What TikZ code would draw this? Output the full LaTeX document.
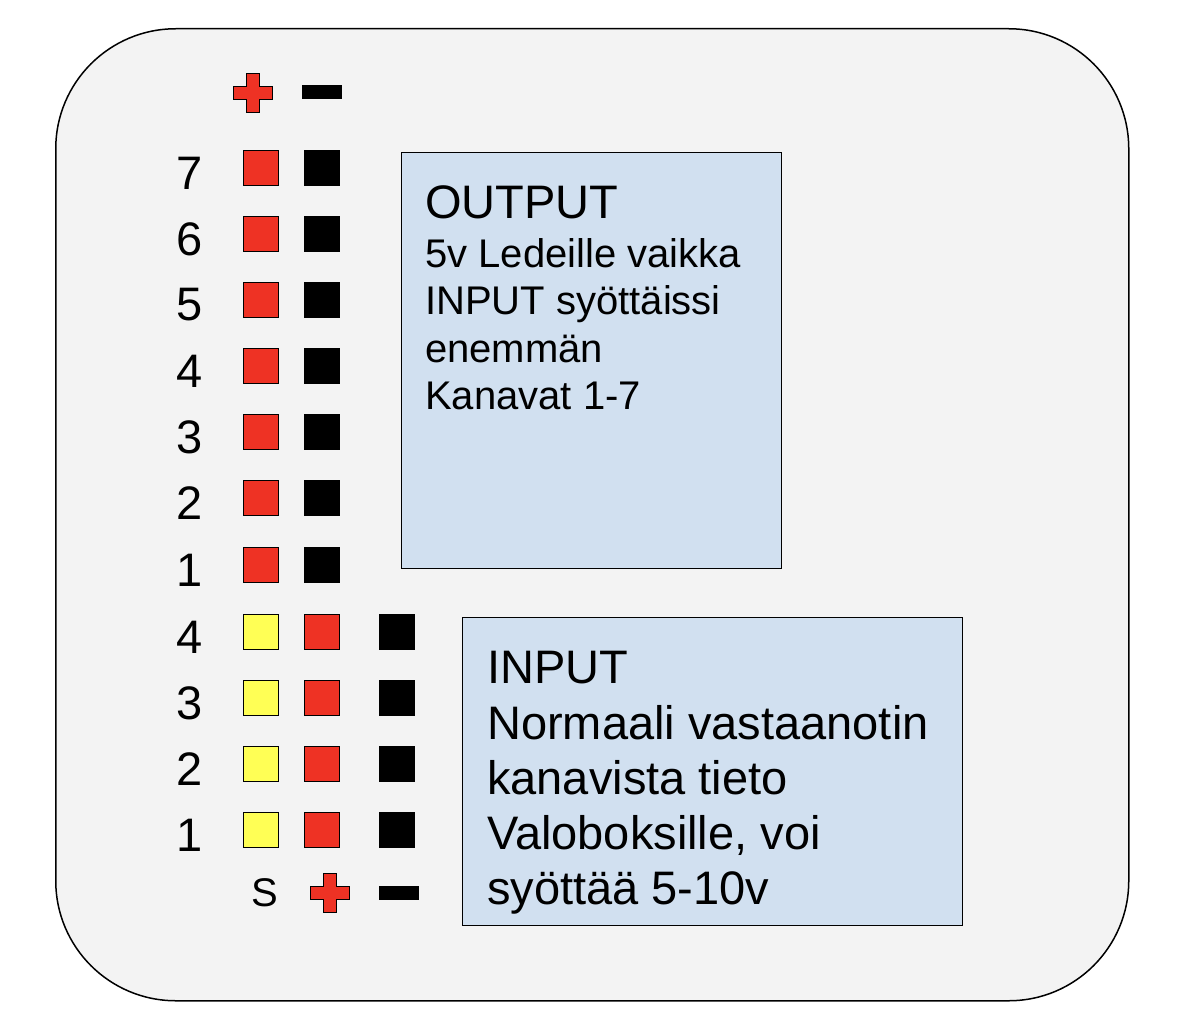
\documentclass[tikz,border=0pt]{standalone}
\usepackage{fontspec}
\setmainfont{Liberation Sans}
\begin{document}
\begin{tikzpicture}[x=1pt,y=-1pt,
 sq/.style={draw=black,line width=1.2pt,minimum size=35pt,inner sep=0pt},
 rsq/.style={sq,fill={rgb,255:red,238;green,50;blue,36}},
 bsq/.style={sq,fill=black},
 ysq/.style={sq,fill={rgb,255:red,255;green,255;blue,85}},
 num/.style={font=\fontsize{47}{47}\selectfont,inner sep=0pt},
 box/.style={draw=black,line width=1pt,fill={rgb,255:red,209;green,224;blue,240},anchor=north west,inner sep=0pt},
 txt/.style={anchor=base west,inner sep=0pt}]
\useasboundingbox (0,0) rectangle (1188,1030);
\node[draw=black,line width=1.5pt,fill={rgb,255:red,243;green,243;blue,243},rounded corners=120pt,minimum width=1073pt,minimum height=972pt,anchor=north west] (outer) at (55,28) {};
\newcommand{\pluss}[2]{\draw[line width=1.2pt,fill={rgb,255:red,238;green,50;blue,36}] (#1-6.5,#2-19.5) -- (#1+6.5,#2-19.5) -- (#1+6.5,#2-6.5) -- (#1+19.5,#2-6.5) -- (#1+19.5,#2+6.5) -- (#1+6.5,#2+6.5) -- (#1+6.5,#2+19.5) -- (#1-6.5,#2+19.5) -- (#1-6.5,#2+6.5) -- (#1-19.5,#2+6.5) -- (#1-19.5,#2-6.5) -- (#1-6.5,#2-6.5) -- cycle;}
\pluss{253}{93}
\node[fill=black,minimum width=40pt,minimum height=14pt,inner sep=0pt] (m1) at (322,92) {};
\foreach \n/\y in {7/168,6/234,5/300,4/366,3/432,2/498,1/565}{
 \node[num] (on\n) at (190,\y+5) {\n};
 \node[rsq] (or\n) at (261,\y) {};
 \node[bsq] (ob\n) at (322,\y) {};
}
\foreach \n/\y in {4/632,3/698,2/764,1/830}{
 \node[num] (in\n) at (190,\y+5) {\n};
 \node[ysq] (iy\n) at (261,\y) {};
 \node[rsq] (ir\n) at (322,\y) {};
 \node[bsq] (ib\n) at (397,\y) {};
}
\node[font=\fontsize{40}{40}\selectfont,inner sep=0pt] (s) at (265,893) {S};
\pluss{330}{893}
\node[fill=black,minimum width=40pt,minimum height=14pt,inner sep=0pt] (m2) at (399,893) {};
\node[box,minimum width=380pt,minimum height=416pt] (ob) at (401,152) {};
\node[txt,font=\fontsize{47}{47}\selectfont] at (425,218) {OUTPUT};
\foreach \t/\y in {{5v Ledeille vaikka}/267,{INPUT syöttäissi}/314,{enemmän}/362,{Kanavat 1-7}/409}
 \node[txt,font=\fontsize{40}{40}\selectfont] at (425,\y) {\t};
\node[box,minimum width=500pt,minimum height=308pt] (ib) at (462,617) {};
\foreach \t/\y in {{INPUT}/683,{Normaali vastaanotin}/739,{kanavista tieto}/794,{Valoboksille, voi}/849,{syöttää 5-10v}/904}
 \node[txt,font=\fontsize{47}{47}\selectfont] at (487,\y) {\t};
\end{tikzpicture}
\end{document}
